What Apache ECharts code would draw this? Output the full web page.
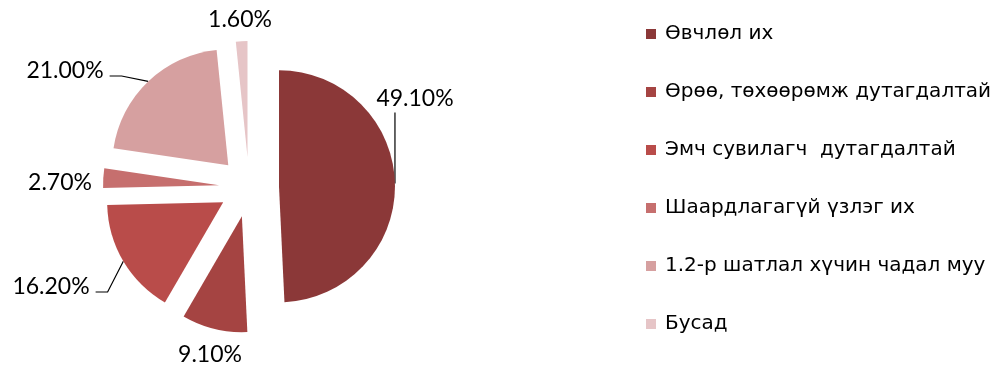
<!DOCTYPE html>
<html><head><meta charset="utf-8">
<script src="https://cdn.jsdelivr.net/npm/echarts@6/dist/echarts.min.js"></script>
<style>html,body{margin:0;padding:0;background:#fff}#c{width:1004px;height:367px}</style>
</head><body><div id="c"></div>
<script>
const categories = ["Өвчлөл их","Өрөө, төхөөрөмж дутагдалтай","Эмч сувилагч  дутагдалтай","Шаардлагагүй үзлэг их","1.2-р шатлал хүчин чадал муу","Бусад"];
const values = [49.1, 9.1, 16.2, 2.7, 21.0, 1.6];
const colors = ["#8B3838","#A54442","#B94C4A","#C66F6E","#D6A0A0","#E6C5C7"];

// label placement (Excel "best fit" look)
const labelPos = [[415,99],[210,355],[51,287],[60,183],[65,71],[240,20]];
const showLeader = [true,false,true,false,true,false];
const pieCenter = [249,187];
const explode = 30;

const chart = echarts.init(document.getElementById('c'), null, {renderer:'canvas'});
chart.setOption({
  animation:false,
  legend:{
    orient:'vertical', left:641, top:19, itemGap:38, itemWidth:10, itemHeight:10, icon:'rect',
    textStyle:{fontFamily:'DejaVu Sans', fontSize:20, color:'#000', lineHeight:20, padding:[0,0,0,4]},
    data:categories
  },
  series:[{
    type:'pie', center:pieCenter, radius:116, startAngle:90, clockwise:true,
    selectedMode:'multiple', selectedOffset:explode, avoidLabelOverlap:false,
    emphasis:{disabled:true},
    label:{show:true, position:'outside', fontFamily:'Lato', fontSize:23, color:'#000',
      formatter: p => p.value.toFixed(2) + '%'},
    labelLine:{show:true, length:8, length2:8, lineStyle:{color:'#000', width:1.2}},
    labelLayout: function(p){
      const i = p.dataIndex;
      const [cx, cy] = labelPos[i];
      const r = p.labelRect, w = r.width, h = r.height;
      const a = p.labelLinePoints[0];
      const vx = a[0] - pieCenter[0], vy = a[1] - pieCenter[1];
      const len = Math.hypot(vx, vy) || 1;
      const ox = explode * vx / len, oy = explode * vy / len;
      const out = {dx: cx - (r.x + w/2) - ox, dy: cy - (r.y + h/2) - oy};
      if (showLeader[i]) {
        if (i === 0) out.labelLinePoints = [a, [a[0], (a[1] + cy + h/2)/2 - oy], [a[0], cy + h/2 + 2 - oy]];
        else { const rx = cx + w/2; out.labelLinePoints = [a, [rx + 18 - ox, cy + 5 - oy], [rx + 6 - ox, cy + 5 - oy]]; }
      } else {
        out.labelLinePoints = [a, a, a];
      }
      return out;
    },
    data: categories.map((c,i)=>({name:c, value:values[i], selected:true, itemStyle:{color:colors[i]},
      labelLine:{lineStyle:{opacity: showLeader[i] ? 1 : 0}}}))
  }]
});
</script></body></html>
